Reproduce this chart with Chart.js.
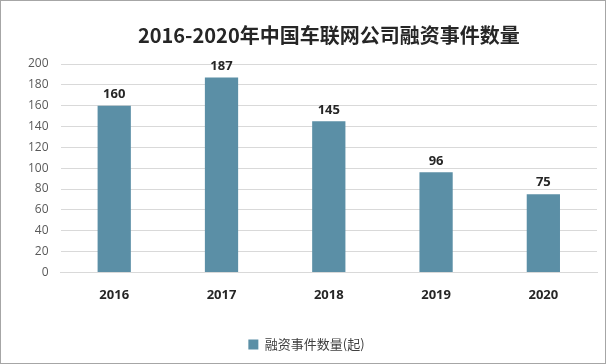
<!doctype html>
<html>
  <head>
    <meta charset="utf-8">
    <script src="https://cdn.jsdelivr.net/npm/chart.js@4"></script>
    <style>
      body { margin: 0; background: #fff; }
      #wrap { width: 606px; height: 364px; box-sizing: border-box; border: 1px solid #a6a6a6; }
    </style>
  </head>

  <body>
    <div id="wrap">
      <canvas id="canvas" width="604" height="362"></canvas>
    </div>
    <script>
      const years = ['2016', '2017', '2018', '2019', '2020'];
      const deals = [160, 187, 145, 96, 75];
      const seriesName = '融资事件数量(起)';
      const titleText = '2016-2020年中国车联网公司融资事件数量';

      // value labels over each bar
      const barLabels = {
        id: 'barLabels',
        afterDatasetsDraw(chart) {
          const ctx = chart.ctx;
          const meta = chart.getDatasetMeta(0);
          ctx.save();
          ctx.font = 'bold 13px "Open Sans", "Noto Sans", sans-serif';
          ctx.fillStyle = '#262626';
          ctx.textAlign = 'center';
          ctx.textBaseline = 'bottom';
          meta.data.forEach((bar, i) => {
            ctx.fillText(deals[i], bar.x, bar.y - 5);
          });
          ctx.restore();
        },
      };

      new Chart(document.getElementById('canvas').getContext('2d'), {
        type: 'bar',
        data: {
          labels: years,
          datasets: [
            {
              label: seriesName,
              data: deals,
              backgroundColor: '#5b8fa6',
              barPercentage: 0.62,
              categoryPercentage: 0.5,
            },
          ],
        },
        options: {
          responsive: false,
          animation: false,
          layout: { padding: { left: 15, right: 8, top: 6, bottom: 2 } },
          plugins: {
            title: {
              display: true,
              text: titleText,
              fullSize: false,
              color: '#262626',
              font: { size: 20, weight: 'bold', family: '"Noto Sans CJK SC", sans-serif' },
              padding: { top: 16, bottom: 17 },
            },
            legend: {
              position: 'bottom',
              labels: {
                boxWidth: 10,
                boxHeight: 10,
                color: '#404040',
                font: { size: 13, family: '"Noto Sans CJK SC", sans-serif' },
                padding: 8,
              },
            },
            tooltip: { enabled: false },
          },
          scales: {
            x: {
              grid: { display: false },
              border: { color: '#d9d9d9' },
              ticks: {
                color: '#262626',
                font: { size: 13, weight: 'bold', family: '"Open Sans", sans-serif' },
                padding: 7,
              },
              afterFit(scale) {
                scale.height += 20;
              },
            },
            y: {
              min: 0,
              max: 200,
              ticks: {
                stepSize: 20,
                color: '#595959',
                font: { size: 12, family: '"Open Sans", sans-serif' },
                padding: 12,
              },
              grid: { color: '#d9d9d9', drawTicks: false },
              border: { display: false },
            },
          },
        },
        plugins: [barLabels],
      });
    </script>
  </body>
</html>
